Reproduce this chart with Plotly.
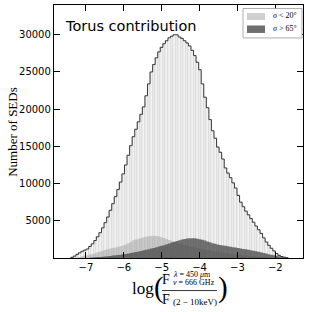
import numpy as np
import plotly.graph_objects as go

# ---- data ----
BIN_START = -7.40
BIN_WIDTH = 0.0675
total = [80, 250, 480, 700, 900, 1050, 1200, 1550, 1900, 2350,
         2850, 3400, 4050, 4750, 5500, 6400, 7300, 8250, 9200, 10200,
         11300, 12500, 13800, 15100, 16300, 17300, 18300, 19300, 20300, 21800,
         23400, 25000, 26000, 26900, 27700, 28300, 28800, 29200, 29600, 29800,
         30000, 30000, 29700, 29500, 29200, 28900, 28500, 27900, 27200, 26300,
         25300, 23400, 21600, 20200, 18600, 17100, 16100, 14900, 14200, 13300,
         12100, 11400, 10800, 10100, 9400, 8400, 7500, 6900, 6300, 5800,
         5300, 4800, 4300, 3800, 3300, 2700, 2150, 1700, 1300, 950,
         600, 350, 200, 100, 40]
sigma_lt20 = [0, 20, 60, 150, 220, 300, 380, 460, 550, 650,
              760, 880, 980, 1080, 1170, 1260, 1340, 1420, 1500, 1570,
              1680, 1820, 1980, 2150, 2400, 2500, 2600, 2700, 2780, 2860,
              2920, 2960, 2990, 2970, 2900, 2800, 2700, 2570, 2430, 2280,
              2150, 2030, 1930, 1840, 1760, 1680, 1600, 1520, 1440, 1360,
              1290, 1220, 1150, 1080, 1010, 950, 890, 830, 770, 720,
              670, 620, 570, 520, 480, 440, 400, 360, 320, 290,
              260, 230, 200, 170, 140, 120, 100, 80, 60, 40,
              25, 15, 5, 0, 0]
sigma_gt65 = [0, 0, 0, 0, 0, 0, 10, 30, 60, 90,
              120, 150, 180, 210, 240, 280, 320, 360, 400, 450,
              500, 550, 610, 670, 740, 810, 880, 950, 1030, 1110,
              1190, 1270, 1360, 1450, 1540, 1630, 1730, 1840, 1950, 2070,
              2190, 2300, 2400, 2480, 2550, 2610, 2650, 2660, 2640, 2590,
              2520, 2440, 2350, 2230, 2100, 1990, 1900, 1820, 1750, 1690,
              1630, 1570, 1510, 1450, 1400, 1340, 1280, 1220, 1160, 1100,
              1040, 970, 900, 830, 760, 680, 600, 520, 440, 360,
              290, 220, 150, 90, 30]
x_ticks = [-7, -6, -5, -4, -3, -2]
y_ticks = [5000, 10000, 15000, 20000, 25000, 30000]
y_ticktext = ["5000", "10000", "15000", "20000", "25000", "30000"]
legend_labels = ["<i>σ</i> &lt; 20°", "<i>σ</i> &gt; 65°"]

n = len(total)
edges = BIN_START + BIN_WIDTH * np.arange(n + 1)
centers = 0.5 * (edges[:-1] + edges[1:])


def step_xy(vals):
    xs = [edges[0]] + list(edges[:n]) + [edges[n], edges[n]]
    ys = [0] + list(vals) + [vals[-1], 0]
    return xs, ys


fig = go.Figure()
fig.add_trace(go.Bar(x=centers, y=total, width=BIN_WIDTH,
                     marker=dict(color="#f2f2f2", line=dict(color="#cdcdcd", width=0.5)),
                     showlegend=False, hoverinfo="skip"))
xs, ys = step_xy(sigma_lt20)
fig.add_trace(go.Scatter(x=xs, y=ys, mode="lines", line=dict(width=0, shape="hv"),
                         fill="tozeroy", fillcolor="rgba(150,150,150,0.45)", showlegend=False))
xs, ys = step_xy(sigma_gt65)
fig.add_trace(go.Scatter(x=xs, y=ys, mode="lines", line=dict(width=0, shape="hv"),
                         fill="tozeroy", fillcolor="rgba(70,70,70,0.75)", showlegend=False))
xs, ys = step_xy(total)
fig.add_trace(go.Scatter(x=xs, y=ys, mode="lines", line=dict(width=1, color="#3a3a3a", shape="hv"),
                         showlegend=False))

# plot-area pixel geometry
L, R, T, B = 54, 303, 5, 258.4
W, H = R - L, B - T


def PX(px):
    return (px - L) / W


def PY(py):
    return (B - py) / H


axis_common = dict(ticks="inside", ticklen=6, tickwidth=1, tickcolor="black",
                   showline=True, linecolor="black", linewidth=1.3, mirror="ticks",
                   showgrid=False, zeroline=False, automargin=False,
                   tickfont=dict(family="DejaVu Sans", size=10, color="black"))
fig.update_layout(
    width=312, height=312,
    margin=dict(l=L, r=312 - R, t=T, b=312 - B, pad=0, autoexpand=False),
    paper_bgcolor="white", plot_bgcolor="white",
    bargap=0, showlegend=False,
    xaxis=dict(range=[-7.844, -1.27], tickvals=x_ticks, **axis_common),
    yaxis=dict(range=[0, 34000], tickvals=y_ticks, ticktext=y_ticktext, **axis_common),
)

ann = []
ann.append(dict(text="Torus contribution", x=PX(63), y=PY(26), xanchor="left", yanchor="middle",
                font=dict(family="DejaVu Sans", size=14.5, color="black")))
ann.append(dict(text="Number of SEDs", x=PX(13), y=PY(132), textangle=-90,
                xanchor="center", yanchor="middle",
                font=dict(family="Liberation Serif", size=13, color="black")))
# x-axis label pieces
serif = "Liberation Serif"
ann.append(dict(text="log", x=PX(143), y=PY(289), font=dict(family=serif, size=17, color="black")))
ann.append(dict(text="(", x=PX(158.5), y=PY(287.5), font=dict(family=serif, size=29, color="black")))
ann.append(dict(text=")", x=PX(222.5), y=PY(287.5), font=dict(family=serif, size=29, color="black")))
ann.append(dict(text="F", x=PX(165.5), y=PY(279.5), font=dict(family=serif, size=14, color="black")))
ann.append(dict(text="<i>λ</i> = 450 <i>μ</i>m", x=PX(171), y=PY(274.8), xanchor="left",
                font=dict(family=serif, size=8, color="black")))
ann.append(dict(text="<i>ν</i> = 666 GHz", x=PX(171), y=PY(282.6), xanchor="left",
                font=dict(family=serif, size=8, color="black")))
ann.append(dict(text="F", x=PX(165.5), y=PY(299.5), font=dict(family=serif, size=14, color="black")))
ann.append(dict(text="(2 − 10keV)", x=PX(171), y=PY(302), xanchor="left",
                font=dict(family=serif, size=9, color="black")))
# legend texts
ann.append(dict(text=legend_labels[0], x=PX(271), y=PY(16), xanchor="left",
                font=dict(family=serif, size=8, color="black")))
ann.append(dict(text=legend_labels[1], x=PX(271), y=PY(29), xanchor="left",
                font=dict(family=serif, size=8, color="black")))
for a in ann:
    a.update(xref="paper", yref="paper", showarrow=False)
    a.setdefault("xanchor", "center")
    a.setdefault("yanchor", "middle")
fig.update_layout(annotations=ann)

shapes = [
    dict(type="line", x0=PX(162), x1=PX(217), y0=PY(291), y1=PY(291),
         line=dict(color="black", width=0.8)),
    dict(type="rect", x0=PX(243), x1=PX(302), y0=PY(8.5), y1=PY(38),
         line=dict(color="#999999", width=0.8), fillcolor="white"),
    dict(type="rect", x0=PX(247), x1=PX(265), y0=PY(13), y1=PY(20),
         line=dict(width=0), fillcolor="#d0d0d0"),
    dict(type="rect", x0=PX(247), x1=PX(265), y0=PY(25.5), y1=PY(33),
         line=dict(width=0), fillcolor="#6e6e6e"),
]
for s in shapes:
    s.update(xref="paper", yref="paper")
fig.update_layout(shapes=shapes)

fig.write_html("out.html", config={"displayModeBar": False},
               post_script="document.body.style.margin='0';document.body.style.overflow='hidden';")
